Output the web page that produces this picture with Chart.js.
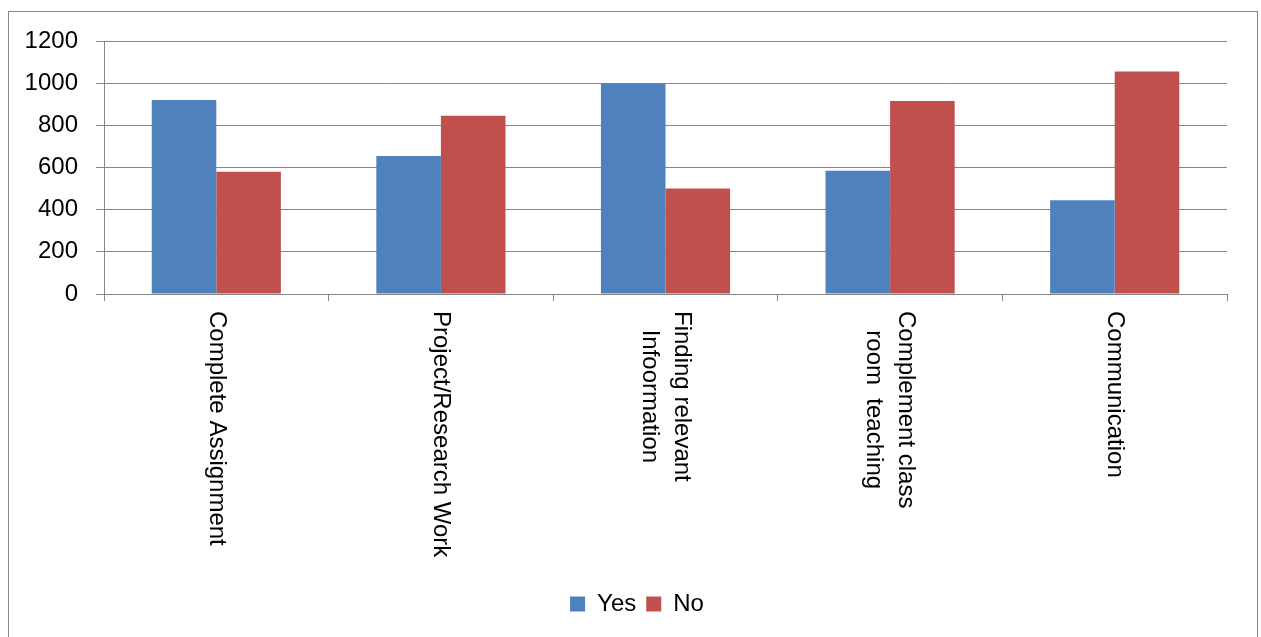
<!DOCTYPE html>
<html>
<head>
<meta charset="utf-8">
<script src="https://cdn.jsdelivr.net/npm/chart.js@4.4.0/dist/chart.umd.min.js"></script>
<style>
  html, body { margin: 0; padding: 0; background: #fff; overflow: hidden; }
  #frame { position: absolute; left: 8px; top: 11px; width: 1250px; height: 640px; border: 1px solid #868686; box-sizing: border-box; }
  #chart { position: absolute; left: 0; top: 0; }
</style>
</head>
<body>
<div id="frame"></div>
<canvas id="chart" width="1261" height="637"></canvas>
<script>
const categories = [
  ["Complete Assignment"],
  ["Project/Research Work"],
  ["Finding relevant", "Infoormation"],
  ["Complement class", "room  teaching"],
  ["Communication"],
];
const yesValues = [920, 655, 1000, 585, 445];
const noValues = [580, 845, 500, 915, 1055];
const yTicks = [0, 200, 400, 600, 800, 1000, 1200];

const FONT = "'Liberation Sans', Arial, sans-serif";
const GRID = "#868686";

Chart.defaults.font.family = FONT;
Chart.defaults.font.size = 24;
Chart.defaults.color = "#000";

// x labels read top-to-bottom, so they are drawn here instead of by the scale
const verticalLabels = {
  id: "verticalLabels",
  afterDraw(chart) {
    const { ctx } = chart;
    const x = chart.scales.x;
    ctx.save();
    ctx.font = "24px " + FONT;
    ctx.fillStyle = "#000";
    ctx.textAlign = "center";
    ctx.textBaseline = "middle";
    categories.forEach((lines, i) => {
      const px = x.getPixelForValue(i);
      const longest = Math.max(...lines.map((l) => ctx.measureText(l).width));
      ctx.save();
      ctx.translate(px, x.top + 17);
      ctx.rotate(Math.PI / 2);
      lines.forEach((line, j) => {
        ctx.fillText(line, longest / 2, (j - (lines.length - 1) / 2) * 32);
      });
      ctx.restore();
    });
    ctx.restore();
  },
};

new Chart(document.getElementById("chart"), {
  type: "bar",
  data: {
    labels: categories,
    datasets: [
      {
        label: "Yes",
        data: yesValues,
        backgroundColor: "#4F81BD",
        borderWidth: 0,
        categoryPercentage: 0.575,
        barPercentage: 1,
      },
      {
        label: "No",
        data: noValues,
        backgroundColor: "#C0504D",
        borderWidth: 0,
        categoryPercentage: 0.575,
        barPercentage: 1,
      },
    ],
  },
  options: {
    responsive: false,
    animation: false,
    layout: { padding: { left: 25, right: 12, top: 41, bottom: 11 } },
    plugins: {
      tooltip: { enabled: false },
      legend: {
        position: "bottom",
        labels: { boxWidth: 15, boxHeight: 15, padding: 10, color: "#000" },
      },
    },
    scales: {
      x: {
        grid: { drawOnChartArea: false, drawTicks: true, tickLength: 7, color: GRID, offset: true },
        border: { color: GRID },
        ticks: { display: false },
        afterFit: (scale) => { scale.height = 288; },
      },
      y: {
        min: 0,
        max: 1200,
        afterBuildTicks: (scale) => { scale.ticks = yTicks.map((v) => ({ value: v })); },
        afterFit: (scale) => { scale.width = 79; },
        grid: { color: GRID, tickLength: 8 },
        border: { color: GRID },
        ticks: { padding: 18, color: "#000", callback: (v) => String(v) },
      },
      // empty right-hand spacer so the legend centres where the original does
      spacer: {
        type: "linear",
        position: "right",
        grid: { display: false },
        border: { display: false },
        ticks: { display: false },
        afterFit: (scale) => { scale.width = 22; },
      },
    },
  },
  plugins: [verticalLabels],
});
</script>
</body>
</html>
